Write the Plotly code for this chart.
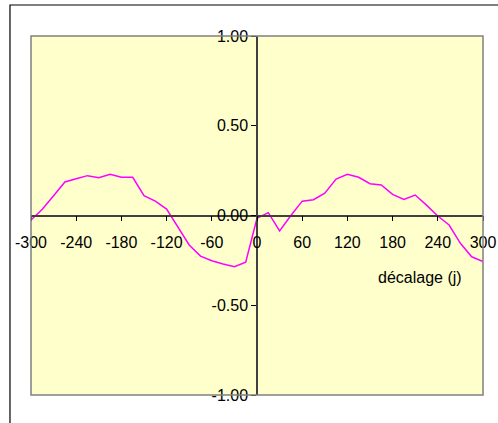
import plotly.graph_objects as go

lag_days = [-300, -285, -270, -255, -240, -225, -210, -195, -180, -165, -150, -135, -120, -105,
            -90, -75, -60, -45, -30, -15, 0, 15, 30, 45, 60, 75, 90, 105, 120, 135, 150, 165,
            180, 195, 210, 225, 240, 255, 270, 285, 300]
correlation = [-0.025, 0.035, 0.11, 0.187, 0.205, 0.222, 0.21, 0.23, 0.213, 0.213, 0.11, 0.08,
               0.036, -0.064, -0.164, -0.226, -0.252, -0.27, -0.285, -0.26, -0.016, 0.016,
               -0.086, 0.0, 0.08, 0.088, 0.124, 0.203, 0.23, 0.213, 0.177, 0.17, 0.118, 0.09,
               0.114, 0.058, -0.003, -0.053, -0.155, -0.23, -0.257]
x_ticks = [-300, -240, -180, -120, -60, 0, 60, 120, 180, 240, 300]
y_ticks = [-1.0, -0.5, 0.0, 0.5, 1.0]
y_tick_labels = ["-1.00", "-0.50", "0.00", "0.50", "1.00"]
x_title = "décalage (j)"

font = dict(family="Liberation Sans, Arial, sans-serif", size=16, color="black")

fig = go.Figure()
fig.add_trace(go.Scatter(x=lag_days, y=correlation, mode="lines",
                         line=dict(color="#FF00FF", width=1.5), showlegend=False,
                         hoverinfo="skip"))

fig.update_layout(
    width=498, height=423,
    margin=dict(l=31, r=15, t=36, b=28, autoexpand=False),
    paper_bgcolor="white",
    plot_bgcolor="#FFFFCC",
    font=font,
    xaxis=dict(range=[-300, 300], tickvals=x_ticks, ticktext=[str(v) for v in x_ticks],
               anchor="free", position=0.5, showline=True, linecolor="#404040", linewidth=1.5,
               ticks="outside", ticklen=5, tickcolor="black", tickwidth=1, automargin=False,
               showgrid=False, zeroline=False, ticklabelstandoff=8, tickfont=font),
    yaxis=dict(range=[-1, 1], tickvals=y_ticks, ticktext=y_tick_labels,
               anchor="free", position=0.5, showline=True, linecolor="#404040", linewidth=1.5,
               ticks="outside", ticklen=5, tickcolor="black", tickwidth=1, automargin=False,
               showgrid=False, zeroline=False, tickfont=font),
    shapes=[
        dict(type="rect", xref="paper", yref="paper", x0=0, x1=1, y0=0, y1=1,
             line=dict(color="#808080", width=1.5), layer="above"),
        dict(type="rect", xref="paper", yref="paper", x0=-0.0465, x1=1.2, y0=-0.3, y1=1.0864,
             line=dict(color="black", width=1.2), layer="below"),
    ],
    annotations=[
        dict(text=x_title, x=216, y=-0.343, xref="x", yref="y",
             showarrow=False, font=font, xanchor="center", yanchor="middle"),
    ],
)

fig.write_html("out.html", config={"displayModeBar": False},
               post_script="document.body.style.margin='0';")
